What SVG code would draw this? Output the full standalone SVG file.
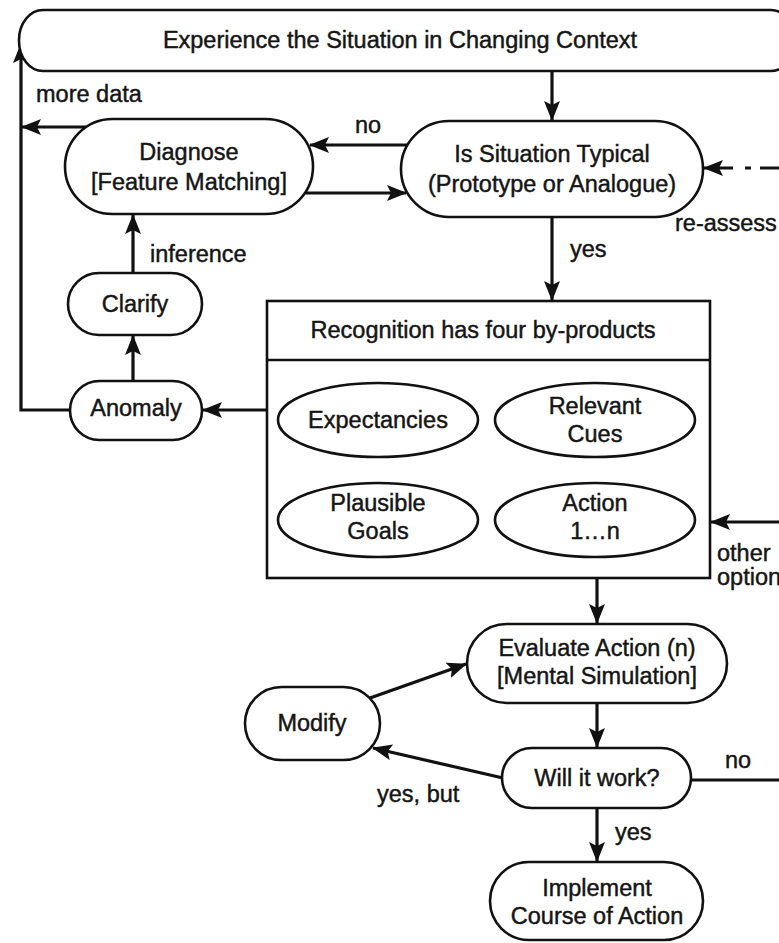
<svg xmlns="http://www.w3.org/2000/svg" width="779" height="943" viewBox="0 0 779 943">
<style>
  .node { fill: #fff; stroke: #111; stroke-width: 2.6; }
  .t { font-family: "Liberation Sans", Arial, sans-serif; font-size: 23.5px; fill: #151515; stroke: #151515; stroke-width: 0.45; text-anchor: middle; }
  .lbl { font-family: "Liberation Sans", Arial, sans-serif; font-size: 23.5px; fill: #151515; stroke: #151515; stroke-width: 0.45; }
  .c { fill: none; stroke: #111; stroke-width: 3.2; }
  .a { marker-end: url(#arr); }
</style>
<defs>
  <marker id="arr" markerUnits="userSpaceOnUse" markerWidth="20" markerHeight="16" viewBox="0 0 20 16" refX="19" refY="8" orient="auto">
    <path d="M0,0 L20,8 L0,16 L4,8 z" fill="#111"/>
  </marker>
</defs>
<rect width="779" height="943" fill="#fff"/>

<g id="connectors">
  <path class="c a" d="M552,71 L552,120"/>
  <path class="c a" d="M407,145 L310,145"/>
  <path class="c a" d="M305,193 L406,193"/>
  <path class="c a" d="M86,127 L22,127"/>
  <path class="c a" d="M70,410 L21,410 L21,44"/>
  <path class="c a" d="M133,273 L133,215"/>
  <path class="c a" d="M133,381 L133,336"/>
  <path class="c a" d="M267,410 L203,410"/>
  <path class="c a" d="M552,217 L552,300"/>
  <path class="c a" d="M779,168 L704,168" stroke-dasharray="19 9 6 12 60"/>
  <path class="c a" d="M779,522 L711,522"/>
  <path class="c a" d="M597,578 L597,623"/>
  <path class="c a" d="M370,698 L466,664"/>
  <path class="c a" d="M597,703 L597,747"/>
  <path class="c a" d="M503,778 L373,748"/>
  <path class="c" d="M691,780 L779,780"/>
  <path class="c a" d="M597,808 L597,861"/>
</g>

<g id="experience">
  <rect class="node" x="19" y="10" width="776" height="61" rx="24" ry="30"/>
  <text class="t" x="400" y="48">Experience the Situation in Changing Context</text>
</g>
<g id="diagnose">
  <rect class="node" x="65" y="119" width="248" height="95" rx="47.5"/>
  <text class="t" x="189" y="160">Diagnose</text>
  <text class="t" x="189" y="190">[Feature Matching]</text>
</g>
<g id="typical">
  <rect class="node" x="401" y="121" width="302" height="96" rx="48"/>
  <text class="t" x="552" y="162">Is Situation Typical</text>
  <text class="t" x="552" y="192">(Prototype or Analogue)</text>
</g>
<g id="clarify">
  <rect class="node" x="68" y="273" width="134" height="62" rx="31"/>
  <text class="t" x="135" y="312">Clarify</text>
</g>
<g id="anomaly">
  <rect class="node" x="70" y="381" width="132" height="59" rx="29.5"/>
  <text class="t" x="136" y="416">Anomaly</text>
</g>
<g id="recognition">
  <rect class="node" x="267" y="301" width="443" height="277"/>
  <line x1="267" y1="360" x2="710" y2="360" stroke="#111" stroke-width="2.6"/>
  <text class="t" x="483" y="338">Recognition has four by-products</text>
  <g id="expectancies">
    <ellipse class="node" cx="378" cy="420" rx="100" ry="37"/>
    <text class="t" x="378" y="428">Expectancies</text>
  </g>
  <g id="cues">
    <ellipse class="node" cx="595" cy="420" rx="100" ry="37"/>
    <text class="t" x="595" y="414">Relevant</text>
    <text class="t" x="595" y="442">Cues</text>
  </g>
  <g id="goals">
    <ellipse class="node" cx="378" cy="520" rx="100" ry="37"/>
    <text class="t" x="378" y="511">Plausible</text>
    <text class="t" x="378" y="539">Goals</text>
  </g>
  <g id="action">
    <ellipse class="node" cx="595" cy="520" rx="100" ry="37"/>
    <text class="t" x="595" y="511">Action</text>
    <text class="t" x="595" y="539">1…n</text>
  </g>
</g>
<g id="evaluate">
  <rect class="node" x="467" y="624" width="260" height="79" rx="39.5"/>
  <text class="t" x="597" y="656">Evaluate Action (n)</text>
  <text class="t" x="597" y="684">[Mental Simulation]</text>
</g>
<g id="modify">
  <rect class="node" x="245" y="687" width="135" height="73" rx="36.5"/>
  <text class="t" x="312" y="731">Modify</text>
</g>
<g id="work">
  <rect class="node" x="502" y="748" width="189" height="60" rx="30"/>
  <text class="t" x="597" y="786">Will it work?</text>
</g>
<g id="implement">
  <rect class="node" x="490" y="862" width="213" height="78" rx="39"/>
  <text class="t" x="597" y="896">Implement</text>
  <text class="t" x="597" y="924">Course of Action</text>
</g>

<g id="labels">
  <text class="lbl" x="36" y="102">more data</text>
  <text class="lbl" x="355" y="133">no</text>
  <text class="lbl" x="150" y="262">inference</text>
  <text class="lbl" x="570" y="257">yes</text>
  <text class="lbl" x="675" y="231">re-assess</text>
  <text class="lbl" x="717" y="561">other</text>
  <text class="lbl" x="717" y="585">options</text>
  <text class="lbl" x="377" y="802">yes, but</text>
  <text class="lbl" x="725" y="768">no</text>
  <text class="lbl" x="615" y="840">yes</text>
</g>
</svg>
